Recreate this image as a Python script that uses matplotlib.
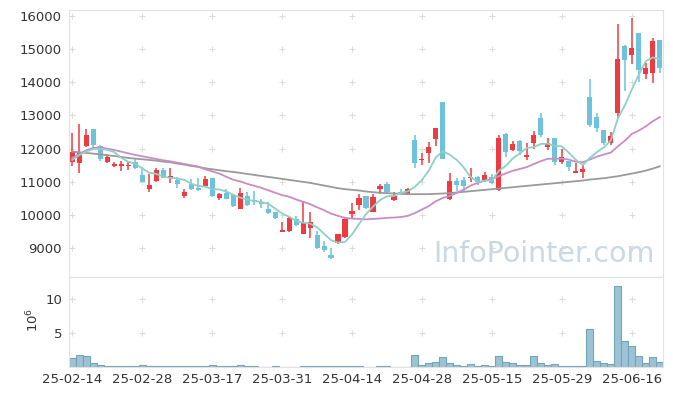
import matplotlib
matplotlib.use('Agg')
import matplotlib.pyplot as plt
import numpy as np
import pandas as pd

opens = [11600, 11580, 12090, 12590, 12090, 11590, 11490, 11490, 11470, 11610,
         11210, 10790, 11040, 11360, 11110, 11060, 10580, 10930, 10830, 10890,
         11110, 10520, 10660, 10600, 10180, 10560, 10440, 10390, 10180, 10100,
         9500, 9530, 9870, 9430, 9600, 9400, 9070, 8800, 9150, 9350,
         10030, 10300, 10560, 10100, 10790, 10940, 10440, 10710, 10630, 12260,
         11650, 11880, 12290, 13410, 10480, 11040, 11060, 11120, 11160, 11060,
         11160, 10750, 12440, 11960, 12230, 11740, 12160, 12910, 12060, 12330,
         11610, 11640, 11280, 11310, 13540, 12940, 12560, 12180, 13080, 15090,
         14820, 15470, 14250, 14280, 15270]
highs = [12460, 12730, 12590, 12590, 12120, 11830, 11610, 11630, 11610, 11710,
         11460, 11230, 11410, 11410, 11410, 11160, 10790, 11090, 11130, 11180,
         11130, 10660, 10790, 10630, 10830, 10710, 10730, 10480, 10390, 10100,
         9780, 9950, 9980, 10420, 10100, 9520, 9230, 9020, 9440, 9900,
         10350, 10630, 10580, 10630, 10930, 10990, 10710, 10780, 10830, 12410,
         11860, 12210, 12630, 13410, 11260, 11110, 11140, 11430, 11180, 11310,
         11230, 12410, 12460, 12240, 12260, 12180, 12540, 13060, 12310, 12330,
         11980, 11640, 11560, 11540, 14090, 13080, 12560, 12490, 15750, 15120,
         15920, 15470, 14570, 15320, 15270]
lows = [11490, 11260, 12040, 12030, 11620, 11580, 11440, 11340, 11360, 11390,
        10990, 10700, 11010, 11110, 10960, 10830, 10510, 10760, 10730, 10860,
        10530, 10460, 10490, 10250, 10180, 10280, 10300, 10220, 10030, 9870,
        9500, 9500, 9680, 9420, 9300, 8980, 8900, 8680, 9120, 9300,
        9880, 10150, 10180, 10080, 10630, 10670, 10420, 10620, 10600, 11410,
        11510, 11580, 12080, 11690, 10460, 10740, 10700, 11010, 10910, 11010,
        10950, 10740, 11760, 11940, 11810, 11660, 11980, 12360, 11960, 11520,
        11540, 11340, 11260, 11110, 12660, 12510, 12110, 12110, 12910, 13740,
        14550, 14010, 14090, 13980, 14270]
closes = [11890, 11890, 12410, 12110, 11680, 11740, 11550, 11550, 11510, 11410,
          11010, 10910, 11360, 11130, 11180, 10950, 10690, 10790, 10770, 11090,
          10580, 10630, 10490, 10280, 10660, 10300, 10390, 10330, 10050, 9920,
          9550, 9920, 9700, 9770, 9780, 9000, 8950, 8720, 9420, 9880,
          10120, 10510, 10200, 10550, 10880, 10690, 10580, 10650, 10780, 11580,
          11690, 12040, 12610, 11690, 11030, 10910, 10880, 11160, 11010, 11210,
          10980, 12310, 11910, 12140, 11940, 11810, 12410, 12410, 12160, 11610,
          11760, 11440, 11330, 11380, 12710, 12610, 12160, 12380, 14690, 14670,
          15020, 14370, 14420, 15240, 14440]
volumes = [1.32, 1.71, 1.56, 0.58, 0.30, 0.08, 0.08, 0.08, 0.08, 0.08,
           0.30, 0.08, 0.08, 0.08, 0.08, 0.08, 0.08, 0.08, 0.08, 0.08,
           0.30, 0.08, 0.08, 0.08, 0.30, 0.08, 0.08, 0.0, 0.0, 0.10,
           0.0, 0.0, 0.0, 0.08, 0.08, 0.08, 0.08, 0.08, 0.08, 0.08,
           0.08, 0.08, 0.0, 0.0, 0.10, 0.10, 0.0, 0.0, 0.0, 1.76,
           0.30, 0.58, 0.73, 1.47, 0.58, 0.30, 0.15, 0.44, 0.15, 0.30,
           0.15, 1.62, 0.78, 0.58, 0.30, 0.30, 1.62, 0.58, 0.30, 0.44,
           0.15, 0.15, 0.15, 0.15, 5.59, 0.93, 0.58, 0.44, 11.96, 3.82,
           3.09, 1.62, 0.58, 1.47, 0.78]
ma5_head = [11660, 11800, 11910, 11990]
ma20_head = [11720, 11830, 11950, 12020, 12040, 12000, 11960, 11910, 11860, 11810,
             11770, 11730, 11690, 11650, 11620, 11580, 11540, 11500, 11460]
ma60 = [11910, 11890, 11870, 11850, 11830, 11800, 11780, 11750, 11720, 11700,
        11680, 11660, 11640, 11610, 11590, 11550, 11520, 11480, 11450, 11410,
        11380, 11350, 11320, 11300, 11270, 11240, 11210, 11180, 11150, 11120,
        11090, 11060, 11030, 11000, 10970, 10930, 10890, 10850, 10810, 10780,
        10760, 10740, 10710, 10690, 10670, 10660, 10650, 10640, 10630, 10630,
        10630, 10630, 10640, 10650, 10660, 10680, 10700, 10720, 10740, 10760,
        10780, 10800, 10820, 10840, 10860, 10880, 10900, 10920, 10940, 10960,
        10980, 11000, 11020, 11040, 11070, 11090, 11110, 11140, 11170, 11210,
        11250, 11290, 11340, 11400, 11470]
tick_labels = ['25-02-14', '25-02-28', '25-03-17', '25-03-31', '25-04-14',
               '25-04-28', '25-05-15', '25-05-29', '25-06-16']
price_ticks = [9000, 10000, 11000, 12000, 13000, 14000, 15000, 16000]
vol_ticks = [5, 10]

n = len(closes)
x = np.arange(n)
cs = pd.Series(closes, dtype=float)
ma5 = cs.rolling(5).mean().values
ma5[:4] = ma5_head
ma20 = cs.rolling(20).mean().values
ma20[:19] = ma20_head

UP = '#ee3b41'
DOWN = '#6dc3dc'
SPINE = '#e2e2e2'
TXT = '#333333'

fig = plt.figure(figsize=(6.73, 3.96), dpi=100)
ax = fig.add_axes([69/673, 1-277/396, 594/673, 267/396])
axv = fig.add_axes([69/673, 1-367/396, 594/673, 90/396], sharex=ax)

o = np.array(opens, float); c = np.array(closes, float)
h = np.array(highs, float); l = np.array(lows, float)
up = c >= o
cols = np.where(up, UP, DOWN)
ax.vlines(x, l, h, colors=cols, lw=1.1, zorder=2)
body = np.maximum(np.abs(c - o), 25)
ax.bar(x, body, bottom=np.minimum(o, c), width=0.72, color=cols, zorder=3, linewidth=0)

ax.plot(x, ma60, color='#9a9a9a', lw=1.3, zorder=4)
ax.plot(x, ma20, color='#c98cc6', lw=1.3, zorder=4)
ax.plot(x, ma5, color='#8fd0c6', lw=1.3, zorder=4)

xt = np.arange(0, n, 10)
gx, gy = np.meshgrid(xt, price_ticks)
ax.scatter(gx.ravel(), gy.ravel(), marker='+', s=22, color='#dcdcdc', linewidths=0.8, zorder=0)
gx2, gy2 = np.meshgrid(xt, vol_ticks)
axv.scatter(gx2.ravel(), gy2.ravel(), marker='+', s=22, color='#dcdcdc', linewidths=0.8, zorder=0)

ax.text(0.80, 0.085, 'InfoPointer.com', transform=ax.transAxes, fontsize=20.5,
        color='#c9d9e4', ha='center', va='center', zorder=1)

axv.bar(x, volumes, width=1.0, color='#9cc3d4', edgecolor='#74a3ba', linewidth=0.8, zorder=2)

ax.set_xlim(-0.45, n - 0.55)
ax.set_ylim(8137, 16172)
axv.set_ylim(0, 13.28)

ax.set_yticks(price_ticks)
ax.set_yticklabels([str(t) for t in price_ticks])
axv.set_yticks(vol_ticks)
axv.set_yticklabels([str(t) for t in vol_ticks])
axv.set_xticks(xt)
axv.set_xticklabels(tick_labels)
ax.tick_params(axis='x', labelbottom=False, length=0)
for a in (ax, axv):
    a.tick_params(axis='y', length=0, pad=5, labelsize=9.5, labelcolor=TXT)
    for s in a.spines.values():
        s.set_color(SPINE)
        s.set_linewidth(0.8)
axv.tick_params(axis='x', length=0, pad=4, labelsize=9.5, labelcolor=TXT)
fig.text(33/673, 1-320/396, '$10^6$', rotation=90, fontsize=9.5, color=TXT,
         ha='center', va='center')

fig.savefig('out.png', dpi=100)
